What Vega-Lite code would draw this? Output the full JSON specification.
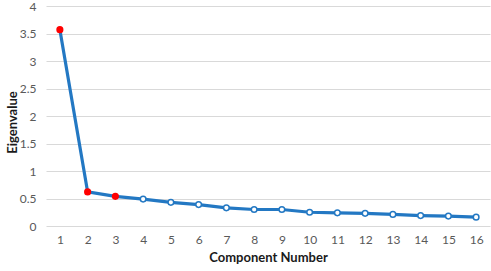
{
  "$schema": "https://vega.github.io/schema/vega-lite/v6.json",
  "width": 444,
  "height": 220,
  "autosize": "none",
  "padding": {"left": 46, "top": 6, "right": 1, "bottom": 45},
  "background": "white",
  "config": {"view": {"stroke": null}, "font": "Lato"},
  "data": {"values": [
    {"c": 1, "e": 3.57, "k": "retain"},
    {"c": 2, "e": 0.62, "k": "retain"},
    {"c": 3, "e": 0.54, "k": "retain"},
    {"c": 4, "e": 0.49, "k": "other"},
    {"c": 5, "e": 0.43, "k": "other"},
    {"c": 6, "e": 0.39, "k": "other"},
    {"c": 7, "e": 0.33, "k": "other"},
    {"c": 8, "e": 0.30, "k": "other"},
    {"c": 9, "e": 0.30, "k": "other"},
    {"c": 10, "e": 0.25, "k": "other"},
    {"c": 11, "e": 0.24, "k": "other"},
    {"c": 12, "e": 0.23, "k": "other"},
    {"c": 13, "e": 0.21, "k": "other"},
    {"c": 14, "e": 0.19, "k": "other"},
    {"c": 15, "e": 0.18, "k": "other"},
    {"c": 16, "e": 0.16, "k": "other"}
  ]},
  "encoding": {
    "x": {"field": "c", "type": "ordinal", "scale": {"type": "point", "padding": 0.5},
      "axis": {"title": "Component Number", "labelAngle": 0, "ticks": false, "domain": false,
        "labelColor": "#595959", "labelFontSize": 12, "labelPadding": 8,
        "titleFontSize": 13, "titleFontWeight": "bold", "titleColor": "#1a1a1a", "titlePadding": 6}},
    "y": {"field": "e", "type": "quantitative", "scale": {"domain": [0, 4], "nice": false},
      "axis": {"title": "Eigenvalue", "values": [0, 0.5, 1, 1.5, 2, 2.5, 3, 3.5, 4], "format": "~g", "ticks": false, "domain": false,
        "gridColor": "#d9d9d9", "gridWidth": 1, "labelColor": "#595959", "labelFontSize": 12, "labelPadding": 10,
        "titleFontSize": 13, "titleFontWeight": "bold", "titleColor": "#1a1a1a", "titleX": -27, "titleY": 116, "titleAngle": -90, "titleBaseline": "bottom", "titleAlign": "center"}}
  },
  "layer": [
    {"mark": {"type": "line", "color": "#2378C3", "strokeWidth": 3.2}},
    {"mark": {"type": "point", "filled": true, "size": 32, "strokeWidth": 1.5, "opacity": 1},
      "encoding": {
        "fill": {"field": "k", "type": "nominal", "scale": {"domain": ["retain", "other"], "range": ["#ff0000", "#ffffff"]}, "legend": null},
        "stroke": {"field": "k", "type": "nominal", "scale": {"domain": ["retain", "other"], "range": ["#ff0000", "#2378C3"]}, "legend": null}}}
  ]
}
